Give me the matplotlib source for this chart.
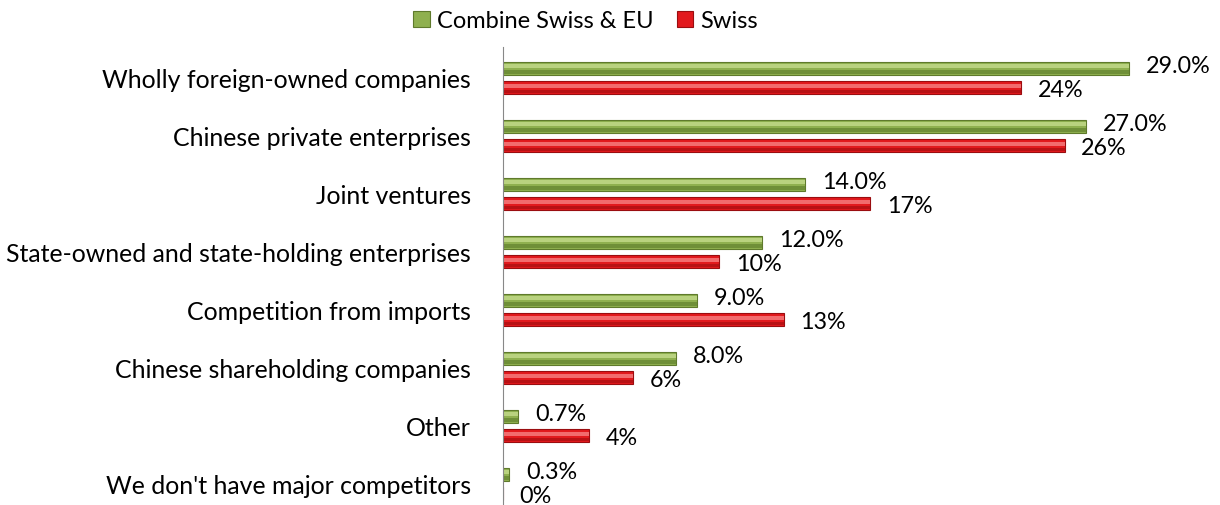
import matplotlib.pyplot as plt
import numpy as np

categories = ["Wholly foreign-owned companies", "Chinese private enterprises", "Joint ventures",
              "State-owned and state-holding enterprises", "Competition from imports",
              "Chinese shareholding companies", "Other", "We don't have major competitors"]
combined = [29.0, 27.0, 14.0, 12.0, 9.0, 8.0, 0.7, 0.3]
swiss = [24, 26, 17, 10, 13, 6, 4, 0]

plt.rcParams['font.family'] = ['Lato', 'DejaVu Sans']

fig = plt.figure(figsize=(12.2, 5.06), dpi=100)
ax = fig.add_axes([503/1220, 0, 1 - 503/1220, 1 - 48/506])

y = np.arange(len(categories))
h = 0.22
off = 0.17

green, green_edge = "#8fb04f", "#5f7a2c"
red, red_edge = "#e2191d", "#9a0d10"

gb = ax.barh(y - off, combined, height=h, color=green, edgecolor=green_edge, linewidth=0.8,
             label="Combine Swiss & EU")
rb = ax.barh(y + off, swiss, height=h, color=red, edgecolor=red_edge, linewidth=0.8, label="Swiss")
# light highlight stripe and darker lower part for the glossy look
ax.barh(y - off - h*0.15, combined, height=h*0.3, color="#b9d27f", linewidth=0)
ax.barh(y + off - h*0.15, swiss, height=h*0.3, color="#f26b6d", linewidth=0)
ax.barh(y - off + h*0.3, combined, height=h*0.25, color="#6f8f38", linewidth=0)
ax.barh(y + off + h*0.3, swiss, height=h*0.25, color="#b81114", linewidth=0)

for yi, v in zip(y, combined):
    ax.annotate(f"{v:.1f}%", (v, yi - off), xytext=(12, 2), textcoords="offset points",
                va="center", ha="left", fontsize=16.8)
for yi, v in zip(y, swiss):
    ax.annotate(f"{v}%", (v, yi + off), xytext=(12, -1), textcoords="offset points",
                va="center", ha="left", fontsize=16.8)

ax.set_xlim(0, 717/21.6)
ax.set_ylim((506-79)/58, (48-79)/58)
ax.set_yticks(y)
ax.set_yticklabels(categories, fontsize=17.9)
ax.tick_params(axis="y", length=0, pad=23)
ax.set_xticks([])
for s in ["top", "right", "bottom"]:
    ax.spines[s].set_visible(False)
ax.spines["left"].set_color("#888888")

fig.legend(handles=[gb, rb], loc="upper center", bbox_to_anchor=(0.48, 1.02), ncol=2,
           frameon=False, fontsize=17, handlelength=0.7, handleheight=0.7, handletextpad=0.3,
           columnspacing=1.0)

fig.savefig("out.png", dpi=100)
